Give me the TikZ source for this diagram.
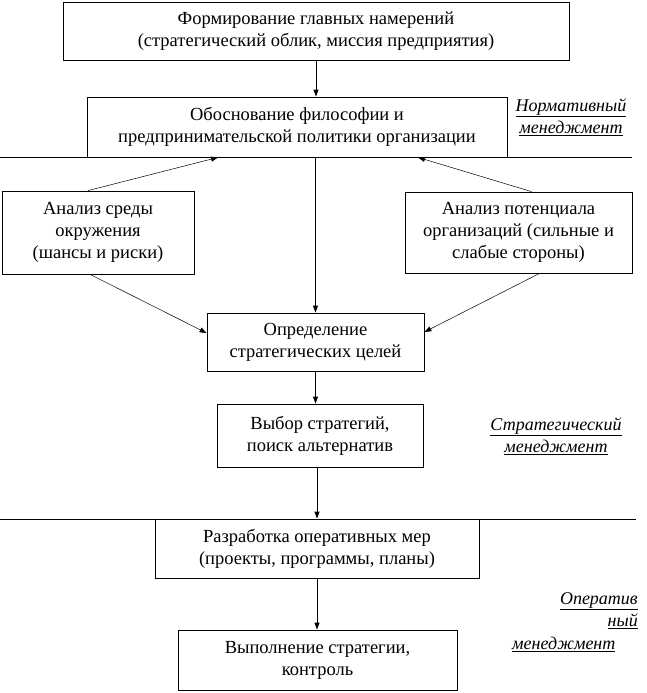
\documentclass[tikz,border=0pt]{standalone}
\usepackage{fontspec}
\setmainfont{Liberation Serif}
\usetikzlibrary{arrows.meta,calc}
\tikzset{
    box/.style={draw,line width=0.8pt,align=center,inner sep=0pt,
        font=\fontsize{18.5pt}{22pt}\selectfont},
    level/.style={align=center,inner sep=0pt,
        font=\fontsize{18pt}{22.5pt}\selectfont\itshape},
    arr/.style={-{Triangle[length=7pt,width=5pt]},line width=0.8pt},
    thinarr/.style={-{Triangle[length=7pt,width=5pt]},line width=0.5pt}
}
\begin{document}
\begin{tikzpicture}[x=1pt,y=-1pt]
            \useasboundingbox (0,0) rectangle (647,693);
            % Boxes
            \node [box,minimum width=506pt,minimum height=58pt] (form) at (316,31)
                {Формирование главных намерений\\(стратегический облик, миссия предприятия)};
            \node [box,minimum width=420pt,minimum height=60pt] (obosn) at (297,127)
                {Обоснование философии и\\предпринимательской политики организации};
            \node [box,minimum width=192pt,minimum height=83pt] (sreda) at (98,232.5)
                {Анализ среды\\окружения\\(шансы и риски)};
            \node [box,minimum width=227pt,minimum height=81pt] (potenc) at (518.5,232.5)
                {Анализ потенциала\\организаций (сильные и\\слабые стороны)};
            \node [box,minimum width=217pt,minimum height=58pt] (opred) at (315.5,342)
                {Определение\\стратегических целей};
            \node [box,minimum width=206pt,minimum height=63pt] (vybor) at (320,435.5)
                {Выбор стратегий,\\поиск альтернатив};
            \node [box,minimum width=324pt,minimum height=59pt] (razrab) at (317,548.5)
                {Разработка оперативных мер\\(проекты, программы, планы)};
            \node [box,minimum width=279pt,minimum height=60pt] (vypoln) at (317.5,660)
                {Выполнение стратегии,\\контроль};

            % Levels
            \coordinate (n1) at (0,157);
            \coordinate (n2) at (632,157);
            \coordinate (s1) at (0,519);
            \coordinate (s2) at (636,519);
            \draw [line width=0.8pt] (n1)--(n2);
            \draw [line width=0.8pt] (s1)--(s2);
            \node [level] (norm) at (571,117) {\underline{Нормативный}\\\underline{менеджмент}};
            \node [level] (strat) at (556,436) {\underline{Стратегический}\\\underline{менеджмент}};
            \node [level,anchor=north east,align=right] (oper1) at (638,592) {\underline{Оператив}\\\underline{ный}};
            \node [level,anchor=north west] (oper2) at (512,637) {\underline{менеджмент}};

            % Arrows
            \draw [arr] (form.south) -- (form.south |- obosn.north);
            \draw [arr] (opred |- obosn.south) -- (opred.north);
            \draw [arr] (opred.south) -- (opred.south |- vybor.north);
            \draw [arr] (vybor.south -| razrab) -- (razrab.north);
            \draw [arr] (razrab.south) -- (razrab.south |- vypoln.north);
            \draw [thinarr] ([xshift=-10pt]sreda.north) -- ([xshift=-79pt]obosn.south);
            \draw [thinarr] ([xshift=13pt]potenc.north) -- ([xshift=121pt]obosn.south);
            \draw [thinarr] ([xshift=-8pt]sreda.south) -- ([yshift=9pt]opred.west);
            \draw [thinarr] ([xshift=21pt]potenc.south) -- ([yshift=10pt]opred.east);
        \end{tikzpicture}
\end{document}
